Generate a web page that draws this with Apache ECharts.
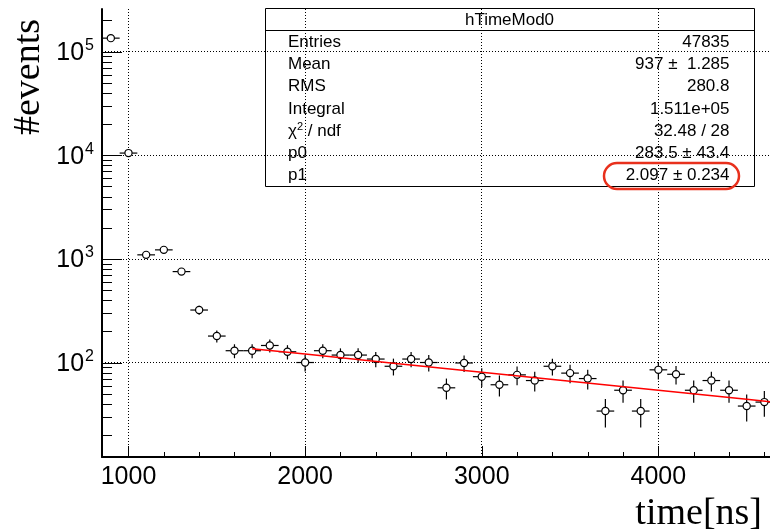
<!DOCTYPE html>
<html><head><meta charset="utf-8">
<script src="https://cdn.jsdelivr.net/npm/echarts@6/dist/echarts.min.js"></script>
<style>html,body{margin:0;padding:0;background:#fff}#c{width:770px;height:531px}</style>
</head><body><div id="c"></div>
<script>
// ---- data ----
const binCenters = [900,1000,1100,1200,1300,1400,1500,1600,1700,1800,1900,2000,2100,2200,2300,2400,2500,2600,2700,2800,2900,3000,3100,3200,3300,3400,3500,3600,3700,3800,3900,4000,4100,4200,4300,4400,4500,4600];
const counts = [135000,10500,1094,1222,754,321,180,130,130,146,127,100,130,118,118,108,92,108,100,57,99,73,61,76,67,92,79,70,34,54,34,85,77,54,67,54,38,41.5];
const errors = [653,182,59,62,49,32,24,20,20,21,20,18,20,19,19,18,17,18,18,13,18,15,14,15.5,14.5,17,16,15,10.4,13,10.4,16.4,15.6,13,14.5,13,11,11.5];
const binWidth = 100;
const fitX = [1700,2000,2500,3000,3500,4000,4500,4700];
const fitY = [136,120.5,98.6,80.7,65.9,54,44.2,40.6];
const xTickLabels = [1000,2000,3000,4000];
const yTickLabels = [100,1000,10000,100000];
const statsTitle = 'hTimeMod0';
const statNames = ['Entries','Mean','RMS','Integral','{a|\u03c7}{s|2}{a| / ndf}','p0','p1'];
const statValues = ['47835','937 \u00b1  1.285','280.8','1.511e+05','32.48 / 28','283.5 \u00b1 43.4','2.097 \u00b1 0.234'];
const xName = 'time[ns]';
const yName = '#events';

// ---- axis ranges ----
const xMin = 850, xMax = 4632;
const yMin = 12.25, yMax = 258000;

// tick positions
const xMajor = xTickLabels.slice();
const xMinor = [];
for (let v = 1200; v < xMax; v += 200) if (v % 1000 !== 0) xMinor.push(v);
const yMajor = yTickLabels.slice();
const yMinor = [];
for (let d = 10; d <= 100000; d *= 10) for (let k = 2; k <= 9; k++) { const v = k * d; if (v > yMin && v < yMax) yMinor.push(v); }

const tickData = [];
xMajor.forEach(v => tickData.push([v, 0, 0, 11]));
xMinor.forEach(v => tickData.push([v, 0, 0, 5]));
yMajor.forEach(v => tickData.push([0, v, 1, 20]));
yMinor.forEach(v => tickData.push([0, v, 1, 10]));

const pointData = binCenters.map((x, i) => [x, counts[i], errors[i]]);
const fitData = fitX.map((x, i) => [x, fitY[i]]);

const SANS = '"Liberation Sans", Arial, Helvetica, sans-serif';
const SERIF = '"Liberation Serif", "Times New Roman", serif';

const chart = echarts.init(document.getElementById('c'), null, {renderer: 'canvas'});

const gridLeft = 102, gridTop = 9, gridBottom = 74;

const graphics = [];
// stats box
graphics.push({type:'rect', shape:{x:265.5, y:8.5, width:489, height:178}, style:{fill:'none', stroke:'#000', lineWidth:1}, z:100});
graphics.push({type:'line', shape:{x1:265.5, y1:30.5, x2:754.5, y2:30.5}, style:{stroke:'#000', lineWidth:1}, z:100});
graphics.push({type:'text', x:509.5, y:20, style:{text:statsTitle, font:'17px ' + SANS, fill:'#000', align:'center', verticalAlign:'middle'}, z:101});
const rowY = [42, 64.5, 86.8, 109, 131.3, 153.5, 175.8];
statNames.forEach((n, i) => {
  graphics.push({type:'text', x:288, y:rowY[i], style:{text:n, font:'17px ' + SANS, fill:'#000', align:'left', verticalAlign:'middle',
    rich:{a:{fontSize:17, fontFamily:SANS, fill:'#000'}, s:{fontSize:11, fontFamily:SANS, fill:'#000', verticalAlign:'top', padding:[0,0,8,0]}}}, z:101});
  graphics.push({type:'text', x:729.5, y:rowY[i], style:{text:statValues[i], font:'17px ' + SANS, fill:'#000', align:'right', verticalAlign:'middle'}, z:101});
});
graphics.push({type:'rect', shape:{x:604, y:163, width:135, height:26, r:13}, style:{fill:'none', stroke:'#e8301c', lineWidth:2.5}, z:102});
// axis titles
graphics.push({type:'text', x:762, y:514, style:{text:xName, font:'38px ' + SERIF, fill:'#000', align:'right', verticalAlign:'middle'}, z:101});
graphics.push({type:'text', x:29, y:77, rotation:Math.PI/2, style:{text:yName, font:'38px ' + SERIF, fill:'#000', align:'center', verticalAlign:'middle'}, z:101});

const option = {
  animation: false,
  backgroundColor: '#fff',
  grid: {left: gridLeft, top: gridTop, right: 0, bottom: gridBottom, containLabel: false},
  xAxis: {
    type: 'value', min: xMin, max: xMax,
    axisLine: {show: true, onZero: false, lineStyle: {color: '#000', width: 2}},
    axisTick: {show: false},
    axisLabel: {
      margin: 8, color: '#000', fontSize: 25, fontFamily: SANS,
      showMinLabel: false, showMaxLabel: false,
      formatter: v => (xTickLabels.indexOf(v) >= 0 ? String(v) : '')
    },
    splitLine: {show: true, showMinLine: false, showMaxLine: false, lineStyle: {color: '#000', width: 1, type: [1, 2]}}
  },
  yAxis: {
    type: 'log', logBase: 10, min: yMin, max: yMax,
    axisLine: {show: true, onZero: false, lineStyle: {color: '#000', width: 2}},
    axisTick: {show: false},
    axisLabel: {
      margin: 8, color: '#000', showMinLabel: false, showMaxLabel: false,
      formatter: v => {
        const l = Math.log10(v), e = Math.round(l);
        if (Math.abs(l - e) > 1e-6) return '';
        return '{b|10}{e|' + e + '}';
      },
      rich: {
        b: {fontSize: 25, fontFamily: SANS, color: '#000', lineHeight: 28, verticalAlign: 'bottom'},
        e: {fontSize: 16, fontFamily: SANS, color: '#000', lineHeight: 28, verticalAlign: 'top', padding: [0, 0, 0, 1]}
      }
    },
    splitLine: {show: true, showMinLine: false, showMaxLine: false, lineStyle: {color: '#000', width: 1, type: [1, 2]}}
  },
  graphic: graphics,
  series: [
    {
      type: 'custom', name: 'ticks', silent: true, clip: false, z: 5,
      data: tickData,
      renderItem: (params, api) => {
        const isY = api.value(2) === 1, len = api.value(3);
        if (isY) {
          const p = api.coord([xMin, api.value(1)]);
          return {type: 'line', shape: {x1: p[0], y1: Math.round(p[1]) + 0.5, x2: p[0] + len, y2: Math.round(p[1]) + 0.5}, style: {stroke: '#000', lineWidth: 1}};
        }
        const p = api.coord([api.value(0), yMin]);
        return {type: 'line', shape: {x1: Math.round(p[0]) + 0.5, y1: p[1], x2: Math.round(p[0]) + 0.5, y2: p[1] - len}, style: {stroke: '#000', lineWidth: 1}};
      }
    },
    {
      type: 'custom', name: 'hist', silent: true, clip: true, z: 3,
      data: pointData,
      renderItem: (params, api) => {
        const x = api.value(0), y = api.value(1), e = api.value(2);
        const c = api.coord([x, y]);
        const l = api.coord([x - binWidth / 2, y])[0];
        const r = api.coord([x + binWidth / 2, y])[0];
        const top = api.coord([x, y + e])[1];
        const bot = api.coord([x, Math.max(y - e, 1e-3)])[1];
        const R = 3.6;
        const ls = {stroke: '#000', lineWidth: 1.2};
        const ch = [];
        if (c[0] - R > l) ch.push({type: 'line', shape: {x1: l, y1: c[1], x2: c[0] - R, y2: c[1]}, style: ls});
        if (r > c[0] + R) ch.push({type: 'line', shape: {x1: c[0] + R, y1: c[1], x2: r, y2: c[1]}, style: ls});
        if (c[1] - R > top) ch.push({type: 'line', shape: {x1: c[0], y1: top, x2: c[0], y2: c[1] - R}, style: ls});
        if (bot > c[1] + R) ch.push({type: 'line', shape: {x1: c[0], y1: c[1] + R, x2: c[0], y2: bot}, style: ls});
        ch.push({type: 'circle', shape: {cx: c[0], cy: c[1], r: R}, style: {fill: '#fff', stroke: '#000', lineWidth: 1.2}});
        return {type: 'group', children: ch};
      }
    },
    {
      type: 'line', name: 'fit', data: fitData, showSymbol: false, smooth: false, clip: true, z: 4,
      lineStyle: {color: '#ff0000', width: 1.5}, silent: true
    }
  ]
};
chart.setOption(option);
</script>
</body></html>
